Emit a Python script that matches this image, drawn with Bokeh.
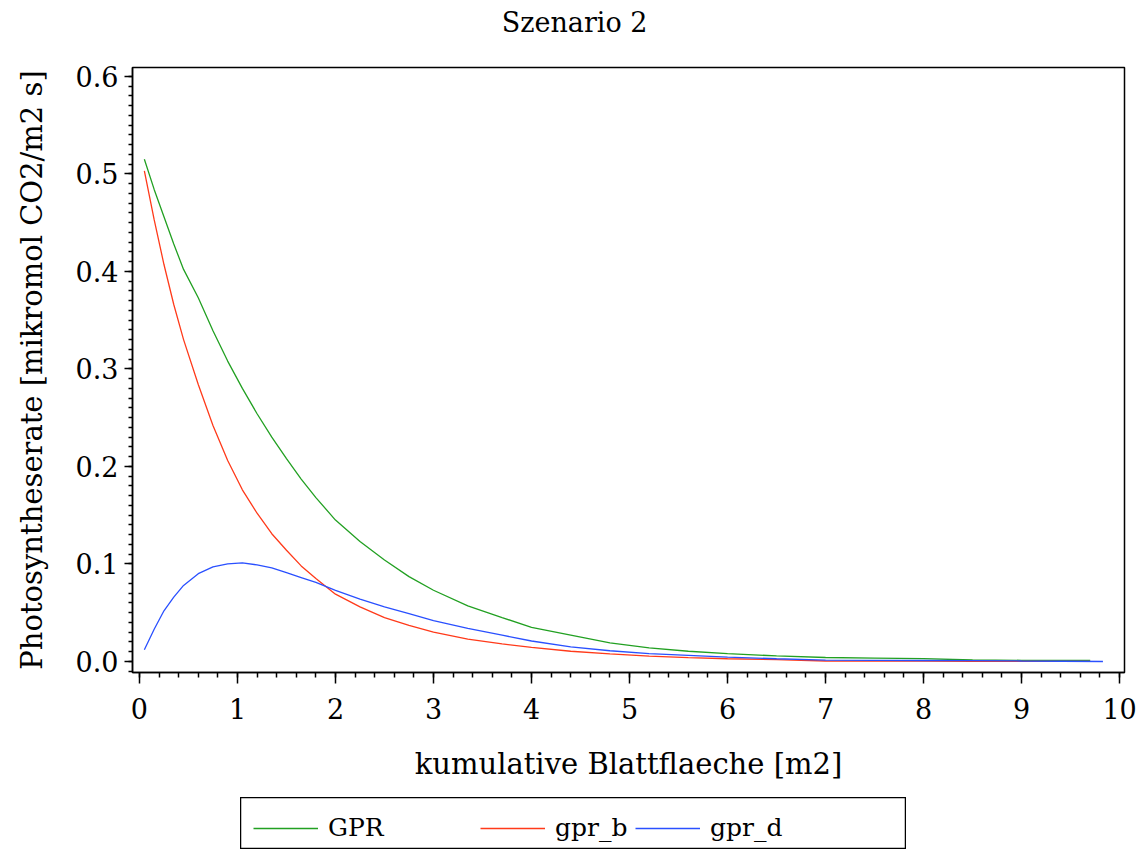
from bokeh.plotting import figure
from bokeh.models import (Range1d, SingleIntervalTicker, PrintfTickFormatter, Legend,
                          LegendItem, Spacer, Label)
from bokeh.layouts import column, row
from bokeh.embed import file_html
from bokeh.resources import INLINE

# ---- data ----
blatt = [0.05, 0.15, 0.25, 0.35, 0.45, 0.6, 0.75, 0.9, 1.05, 1.2, 1.35, 1.5, 1.65, 1.8,
         2.0, 2.25, 2.5, 2.75, 3.0, 3.35, 3.7, 4.0, 4.4, 4.8, 5.2, 5.6, 6.0, 6.5, 7.0,
         7.5, 8.0, 8.5, 9.0, 9.7]
gpr = [0.515, 0.484, 0.456, 0.428, 0.402, 0.373, 0.339, 0.308, 0.280, 0.254, 0.230,
       0.208, 0.187, 0.168, 0.145, 0.123, 0.104, 0.087, 0.073, 0.057, 0.045, 0.035,
       0.027, 0.019, 0.014, 0.0105, 0.008, 0.0057, 0.0041, 0.0035, 0.003, 0.0015,
       0.0012, 0.0010]
gpr_b = [0.503, 0.453, 0.407, 0.366, 0.330, 0.284, 0.242, 0.206, 0.176, 0.152, 0.131,
         0.114, 0.098, 0.085, 0.069, 0.056, 0.045, 0.037, 0.030, 0.023, 0.018, 0.0145,
         0.0105, 0.0078, 0.0055, 0.0040, 0.0028, 0.0020, 0.0005, 0.0004, 0.0003,
         0.0002, 0.0001, 0.0001]
blatt_d = [0.05, 0.15, 0.25, 0.35, 0.45, 0.6, 0.75, 0.9, 1.05, 1.2, 1.35, 1.5, 1.65, 1.8,
           2.0, 2.25, 2.5, 2.75, 3.0, 3.35, 3.7, 4.0, 4.4, 4.8, 5.2, 5.6, 6.0, 6.5, 7.0,
           7.5, 8.0, 8.5, 9.0, 9.83]
gpr_d = [0.012, 0.033, 0.052, 0.066, 0.078, 0.090, 0.097, 0.100, 0.101, 0.099, 0.096,
         0.091, 0.086, 0.081, 0.073, 0.064, 0.056, 0.049, 0.042, 0.034, 0.027, 0.021,
         0.015, 0.011, 0.008, 0.0062, 0.0045, 0.0028, 0.0014, 0.0012, 0.0010, 0.0009,
         0.0005, 0.0]

series_names = ["GPR", "gpr_b", "gpr_d"]
series_colors = ["#22a022", "#ff3a1a", "#2a50ff"]

title_text = "Szenario 2"
x_label = "kumulative Blattflaeche [m2]"
y_label = "Photosyntheserate [mikromol CO2/m2 s]"

FONT = "DejaVu Serif"
TICK_FS = "27px"
LABEL_FS = "29px"
TITLE_FS = "27px"
LEG_FS = "25px"

x_rng = Range1d(-0.071, 10.05)

# ---- title strip (its frame lines up with the chart frame) ----
tf = figure(width=1141, height=40, output_backend="svg", toolbar_location=None,
            x_axis_type=None, y_axis_type=None,
            min_border_left=132, min_border_right=17, min_border_top=0,
            min_border_bottom=0, x_range=x_rng, y_range=Range1d(0, 40))
tf.xgrid.visible = False
tf.ygrid.visible = False
tf.outline_line_color = None
tf.add_layout(Label(x=4.44, y=18, text=title_text, text_align="center",
                    text_baseline="middle", text_font=FONT, text_font_size=TITLE_FS,
                    text_color="black"))

# ---- main chart ----
p = figure(width=1141, height=757, output_backend="svg", toolbar_location=None,
           x_range=x_rng, y_range=Range1d(-0.0113, 0.609),
           min_border_left=132, min_border_right=17, min_border_top=27,
           min_border_bottom=125)

p.xgrid.visible = False
p.ygrid.visible = False
p.outline_line_color = "black"
p.outline_line_width = 1.5
p.background_fill_color = "white"
p.border_fill_color = "white"

p.xaxis.ticker = SingleIntervalTicker(interval=1, num_minor_ticks=5)
p.yaxis.ticker = SingleIntervalTicker(interval=0.1, num_minor_ticks=10)
p.yaxis.formatter = PrintfTickFormatter(format="%.1f")
p.xaxis.formatter = PrintfTickFormatter(format="%d")

for ax in (p.xaxis[0], p.yaxis[0]):
    ax.axis_line_color = "black"
    ax.axis_line_width = 1.5
    ax.major_tick_line_color = "black"
    ax.minor_tick_line_color = "black"
    ax.major_tick_line_width = 1.5
    ax.minor_tick_line_width = 1.5
    ax.major_tick_in = 0
    ax.minor_tick_in = 0
    ax.major_label_text_font = FONT
    ax.major_label_text_font_size = TICK_FS
    ax.major_label_text_color = "black"
    ax.axis_label_text_font = FONT
    ax.axis_label_text_font_size = LABEL_FS
    ax.axis_label_text_font_style = "normal"
    ax.axis_label_text_color = "black"

p.xaxis.major_tick_out = 11
p.xaxis.minor_tick_out = 5
p.yaxis.major_tick_out = 8
p.yaxis.minor_tick_out = 4
p.xaxis.major_label_standoff = 14
p.yaxis.major_label_standoff = 6
p.xaxis.axis_label = x_label
p.yaxis.axis_label = y_label
p.xaxis.axis_label_standoff = 25
p.yaxis.axis_label_standoff = 24

xs = [blatt, blatt, blatt_d]
ys = [gpr, gpr_b, gpr_d]
for xv, yv, c in zip(xs, ys, series_colors):
    p.line(xv, yv, line_color=c, line_width=1.3)

# ---- legend box below (the series are drawn out of view; only the swatches show) ----
lg = figure(width=666, height=52, output_backend="svg", toolbar_location=None,
            x_axis_type=None, y_axis_type=None, min_border=0,
            x_range=Range1d(100, 101), y_range=Range1d(100, 101))
lg.xgrid.visible = False
lg.ygrid.visible = False
lg.outline_line_color = "black"
lg.outline_line_width = 1.5

item_x = [13, 240, 395]
for name, c, ix, xv, yv in zip(series_names, series_colors, item_x, xs, ys):
    r = lg.line(xv, yv, line_color=c, line_width=1.3)
    leg = Legend(items=[LegendItem(label=name, renderers=[r])], location=(ix, 7),
                 glyph_width=65, glyph_height=20, label_standoff=10, padding=0,
                 margin=0, border_line_alpha=0, background_fill_alpha=0,
                 label_text_font=FONT, label_text_font_size=LEG_FS, label_text_color="black")
    lg.add_layout(leg, "center")

layout = column(tf, p, row(Spacer(width=240, height=52), lg), spacing=0)

open("out.html", "w").write(file_html(layout, INLINE))
